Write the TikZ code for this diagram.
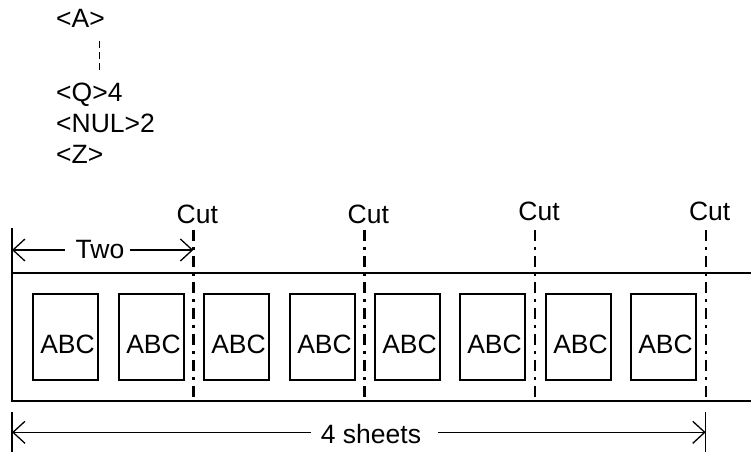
\documentclass[tikz,border=0pt]{standalone}
\usepackage{fontspec}
\setmainfont{Liberation Sans}
\usetikzlibrary{arrows.meta,calc}
\begin{document}
\begin{tikzpicture}[x=1pt,y=-1pt,
  thinline/.style={line width=1.3pt},
  cutline/.style={line width=2.4pt, dash pattern=on 11pt off 6pt on 2.5pt off 6.5pt},
  sheet/.style={draw, line width=1.3pt, minimum width=65pt, minimum height=86pt, inner sep=0pt},
  lbl/.style={font=\fontsize{26.5}{31}\selectfont, inner sep=0pt},
  dim/.style={line width=1.3pt, -{Straight Barb[length=12pt,width=22pt]}},
  topdash/.style={line width=1.3pt, dash pattern=on 7pt off 4pt},
]
\useasboundingbox (0,0) rectangle (751,452);

% top text
\node[lbl, anchor=base west] (A) at (56,28) {<A>};
\node[lbl, anchor=base west] (Q) at (56,101.5) {<Q>4};
\node[lbl, anchor=base west] (NUL) at (56,132) {<NUL>2};
\node[lbl, anchor=base west] (Z) at (56,163) {<Z>};
\coordinate (vx) at (99.3,0);
\draw[topdash] (vx |- 0,41) -- (vx |- 0,73);

% strip
\draw[thinline] (751,273) -| (12,401) -- (751,401);
\draw[thinline] (12,228) -- (12,273);

% sheets
\foreach \L [count=\i] in {33,119,204,290,375,460,546,631} {
  \node[sheet] (b\i) at (\L+32.5,337) {};
  \node[lbl, anchor=base] (t\i) at (\L+34.5,353) {ABC};
}

% cuts
\foreach \x/\y [count=\i] in {193.3/223,364.3/223,535/220,705.7/220} {
  \node[lbl, anchor=base] (cut\i) at (\x+4,\y) {Cut};
  \coordinate (ct\i) at (\x,230);
  \coordinate (cb\i) at (\x,401);
  \draw[cutline] (ct\i) -- (cb\i);
}

% Two dimension
\node[lbl, anchor=base] (two) at (100,258.5) {Two};
\coordinate (twoL) at (12,250);
\coordinate (twoR) at (193.3,250);
\draw[dim] ($(two.west |- twoL)+(-11,0)$) -- (twoL);
\draw[dim] ($(two.east |- twoR)+(5,0)$) -- (twoR);

% 4 sheets dimension
\draw[thinline] (12,412) -- (12,452);
\draw[thinline] (705.7,412) -- (705.7,452);
\node[lbl, anchor=base] (four) at (371,443) {4 sheets};
\coordinate (fourL) at (12,432.3);
\coordinate (fourR) at (705.7,432.3);
\draw[dim] ($(four.west |- fourL)+(-10,0)$) -- (fourL);
\draw[dim] ($(four.east |- fourR)+(17,0)$) -- (fourR);
\end{tikzpicture}
\end{document}
